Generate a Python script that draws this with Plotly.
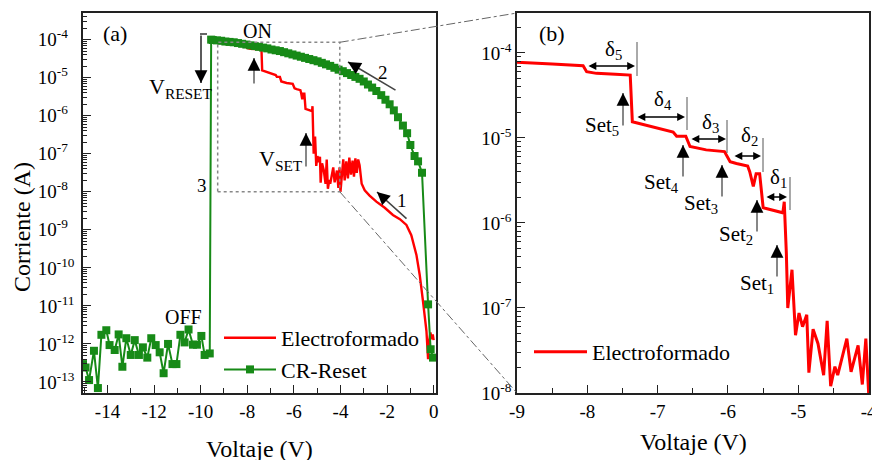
import math
import plotly.graph_objects as go

W, H = 872, 460
FONT = "Liberation Serif"
GREEN = "#178a17"
RED = "#ff0000"

# ---------------- data (log10 of current, A) ----------------
# CR-Reset sweep: 0 V -> -9.55 V (ON branch), drop (3), OFF branch to -15 V
reset_v = [-0.03, -0.13, -0.24, -0.50, -0.67, -0.82, -1.00, -1.14, -1.32, -1.53,
           -1.71, -1.89, -2.07, -2.25, -2.46, -2.64, -2.82, -3.00, -3.18, -3.36,
           -3.54, -3.72, -3.90, -4.08, -4.26, -4.44, -4.62, -4.80, -4.98, -5.16,
           -5.34, -5.52, -5.70, -5.88, -6.06, -6.24, -6.42, -6.60, -6.78, -6.96,
           -7.14, -7.32, -7.50, -7.68, -7.86, -8.04, -8.22, -8.40, -8.58, -8.76,
           -8.94, -9.12, -9.30, -9.48, -9.55,
           -9.61, -9.83, -9.97, -10.16, -10.33, -10.52, -10.69, -10.87, -11.04, -11.21,
           -11.40, -11.59, -11.76, -11.93, -12.12, -12.29, -12.48, -12.65, -12.83, -13.00,
           -13.19, -13.36, -13.52, -13.69, -13.91, -14.05, -14.26, -14.41, -14.58, -14.79,
           -14.94, -15.05]
reset_log_i = [-12.36, -12.14, -10.96, -7.50, -7.20, -7.06, -6.77, -6.46, -6.26, -6.04,
               -5.86, -5.70, -5.58, -5.46, -5.35, -5.26, -5.18, -5.10, -5.03, -4.98,
               -4.93, -4.88, -4.83, -4.79, -4.74, -4.69, -4.65, -4.61, -4.57, -4.54,
               -4.51, -4.48, -4.45, -4.42, -4.39, -4.36, -4.33, -4.30, -4.28, -4.26,
               -4.23, -4.21, -4.19, -4.17, -4.15, -4.13, -4.11, -4.09, -4.07, -4.06,
               -4.05, -4.03, -4.02, -4.01, -4.00,
               -12.25, -12.29, -11.79, -12.02, -12.02, -11.62, -11.96, -11.76, -12.53, -12.53,
               -12.00, -12.77, -12.22, -12.03, -11.85, -12.36, -12.09, -12.29, -11.90, -12.29,
               -11.85, -12.60, -11.75, -12.16, -12.03, -11.64, -11.76, -13.16, -12.18, -12.95,
               -12.62, -12.53]

# Electroformado sweep
form_v = [-9.10, -9.00, -8.50, -8.06, -8.01, -7.87, -7.60, -7.39, -7.36, -7.21,
          -7.00, -6.78, -6.73, -6.60, -6.54, -6.31, -6.05, -5.97, -5.88, -5.72,
          -5.69, -5.64, -5.60, -5.55, -5.50, -5.26, -5.22, -5.20, -5.17, -5.15,
          -5.09, -5.04, -4.99, -4.94, -4.88, -4.85, -4.79, -4.72, -4.64, -4.59,
          -4.54, -4.48, -4.44, -4.31, -4.25, -4.15, -4.09, -4.04, -4.00, -3.94,
          -3.88, -3.82, -3.75, -3.68, -3.62, -3.55, -3.48, -3.42, -3.36, -3.30,
          -3.24, -3.18, -3.09, -2.96, -2.75, -2.46, -2.10, -1.75, -1.45, -1.17,
          -0.96, -0.74, -0.60, -0.46, -0.31, -0.24, -0.20, -0.14, -0.08, -0.04, 0.00]
form_log_i = [-4.09, -4.11, -4.13, -4.15, -4.22, -4.24, -4.25, -4.26, -4.81, -4.84,
              -4.88, -4.93, -4.98, -4.98, -5.10, -5.14, -5.16, -5.28, -5.30, -5.33,
              -5.40, -5.57, -5.42, -5.42, -5.82, -5.87, -5.88, -5.75, -6.36, -7.00,
              -6.55, -7.32, -7.06, -7.22, -7.08, -7.76, -7.25, -7.42, -7.79, -7.15,
              -7.92, -7.69, -7.79, -7.36, -7.75, -7.44, -7.90, -7.36, -8.00, -7.55,
              -7.15, -7.70, -7.20, -7.65, -7.10, -7.55, -7.18, -7.60, -7.12, -7.50,
              -7.15, -7.30, -7.79, -7.96, -8.10, -8.26, -8.42, -8.61, -8.72, -8.87,
              -9.14, -9.66, -10.18, -10.87, -11.66, -12.40, -11.95, -11.70, -11.88, -11.75, -11.90]

reset_i = [10 ** e for e in reset_log_i]
form_i = [10 ** e for e in form_log_i]

# axis tick labels
xa_ticks = [-14, -12, -10, -8, -6, -4, -2, 0]
xb_ticks = [-9, -8, -7, -6, -5, -4]
ya_exps = list(range(-13, -3))
yb_exps = list(range(-8, -3))

# ---------------- layout geometry ----------------
PT, PB = 13, 393                  # plot top/bottom in pixels
XA = [83 / W, 436 / W]            # panel (a) domain
XB = [517 / W, 869 / W]           # panel (b) domain
XR_A = [-15.05, 0.10]
YR_A = [-13.29, -3.30]
XR_B = [-9.0, -3.995]
YR_B = [-8.0, -3.53]


def P(x, y):
    return x / W, (PB - y) / (PB - PT)


def a_paper(v, le):
    xp = XA[0] + (v - XR_A[0]) / (XR_A[1] - XR_A[0]) * (XA[1] - XA[0])
    yp = (le - YR_A[0]) / (YR_A[1] - YR_A[0])
    return xp, yp


def sup_label(e, pad=False):
    s = "10<sup>%d</sup>" % e
    if pad and abs(e) < 10:
        s = "10<sup>%d\u2007</sup>" % e
    return s


fig = go.Figure()
fig.add_trace(go.Scatter(x=form_v, y=form_i, mode="lines", name="Electroformado",
                         line=dict(color=RED, width=2.4), xaxis="x", yaxis="y",
                         legend="legend"))
fig.add_trace(go.Scatter(x=reset_v, y=reset_i, mode="lines+markers", name="CR-Reset",
                         line=dict(color=GREEN, width=2),
                         marker=dict(symbol="square", size=8, color=GREEN),
                         xaxis="x", yaxis="y", legend="legend"))
fig.add_trace(go.Scatter(x=form_v, y=form_i, mode="lines", name="Electroformado",
                         line=dict(color=RED, width=3), xaxis="x2", yaxis="y2",
                         legend="legend2"))

axis_common = dict(showline=True, linecolor="#222", linewidth=1.5, mirror=True,
                   ticks="inside", ticklen=8, tickwidth=1.3, tickcolor="#222",
                   showgrid=False, zeroline=False, automargin=False,
                   ticklabeloverflow="allow",
                   tickfont=dict(family=FONT, size=19, color="black"))

minor_log = [m * 10.0 ** e for e in range(-14, -2) for m in range(2, 10)]

fig.update_layout(
    width=W, height=H, autosize=False,
    paper_bgcolor="white", plot_bgcolor="white",
    margin=dict(l=0, r=0, t=PT, b=H - PB, pad=0),
    font=dict(family=FONT, color="black"),
    xaxis=dict(domain=XA, range=XR_A, tickmode="array", tickvals=xa_ticks,
               ticktext=[str(t) for t in xa_ticks],
               minor=dict(tickvals=[-15, -13, -11, -9, -7, -5, -3, -1], ticks="inside",
                          ticklen=5, tickcolor="#222", tickwidth=1.2),
               anchor="y", **axis_common),
    yaxis=dict(type="log", range=YR_A, tickmode="array",
               tickvals=[10.0 ** e for e in ya_exps],
               ticktext=[sup_label(e, pad=True) for e in ya_exps],
               minor=dict(tickvals=minor_log, ticks="inside", ticklen=4,
                          tickcolor="#222", tickwidth=1),
               anchor="x", ticklabelstandoff=3, **axis_common),
    xaxis2=dict(domain=XB, range=XR_B, tickmode="array", tickvals=xb_ticks,
                ticktext=[str(t) for t in xb_ticks],
                minor=dict(tickvals=[-8.5, -7.5, -6.5, -5.5, -4.5], ticks="inside",
                           ticklen=5, tickcolor="#222", tickwidth=1.2),
                anchor="y2", **axis_common),
    yaxis2=dict(type="log", range=YR_B, tickmode="array",
                tickvals=[10.0 ** e for e in yb_exps],
                ticktext=[sup_label(e) for e in yb_exps],
                minor=dict(tickvals=minor_log, ticks="inside", ticklen=4,
                           tickcolor="#222", tickwidth=1),
                anchor="x2", ticklabelstandoff=0, **axis_common),
    legend=dict(x=P(219, 0)[0], y=P(0, 317)[1], xanchor="left", yanchor="top",
                bgcolor="rgba(0,0,0,0)", font=dict(family=FONT, size=22),
                itemwidth=52, tracegroupgap=0),
    legend2=dict(x=P(529, 0)[0], y=P(0, 331)[1], xanchor="left", yanchor="top",
                 bgcolor="rgba(0,0,0,0)", font=dict(family=FONT, size=22),
                 itemwidth=53),
    showlegend=True,
)

ann = []
shapes = []


def text(t, x, y, size=20, xanchor="center"):
    px_, py_ = P(x, y)
    ann.append(dict(text=t, x=px_, y=py_, xref="paper", yref="paper", showarrow=False,
                    xanchor=xanchor, yanchor="middle",
                    font=dict(family=FONT, size=size, color="black")))


def arrow(hx, hy, tx, ty, shaft="#6a6a6a", head="black", hl=11):
    px_, py_ = P(hx, hy)
    ann.append(dict(text="", x=px_, y=py_, xref="paper", yref="paper", showarrow=True,
                    ax=tx - hx, ay=ty - hy, axref="pixel", ayref="pixel",
                    arrowhead=0, arrowwidth=1.6, arrowcolor=shaft, standoff=0))
    L = math.hypot(tx - hx, ty - hy)
    ann.append(dict(text="", x=px_, y=py_, xref="paper", yref="paper", showarrow=True,
                    ax=(tx - hx) / L * hl, ay=(ty - hy) / L * hl, axref="pixel", ayref="pixel",
                    arrowhead=2, arrowsize=1.6, arrowwidth=1.6, arrowcolor=head, standoff=0))


def darrow(x0, x1, y):
    px0, py_ = P(x1, y)
    ann.append(dict(text="", x=px0, y=py_, xref="paper", yref="paper", showarrow=True,
                    ax=x0 - x1, ay=0, axref="pixel", ayref="pixel",
                    arrowhead=2, startarrowhead=2, arrowside="end+start",
                    arrowsize=1.2, startarrowsize=1.2, arrowwidth=1.3, arrowcolor="black",
                    standoff=0, startstandoff=0))


def pline(x0, y0, x1, y1, color="#555", width=1, dash="solid"):
    a0, b0 = P(x0, y0)
    a1, b1 = P(x1, y1)
    shapes.append(dict(type="line", xref="paper", yref="paper", x0=a0, y0=b0, x1=a1, y1=b1,
                       line=dict(color=color, width=width, dash=dash)))


# ---- panel (a) annotations ----
text("(a)", 115, 34, 22)
text("ON", 257, 31, 20)
text("V<sub>RESET</sub>", 181, 88, 22)
text("V<sub>SET</sub>", 281, 160, 22)
text("OFF", 183, 317, 20)
text("3", 202, 185, 19)
text("2", 383, 72, 19)
text("1", 402, 200, 19)
arrow(201, 83, 201, 34, shaft="#333")
pline(200, 34, 207, 34, color="#333", width=1.5)
arrow(254, 58, 254, 85)
arrow(306, 133, 306, 168)
arrow(348, 62, 397, 91, shaft="#444", hl=10)
arrow(377, 192, 408, 220, shaft="#444", hl=10)

# zoom box (data coordinates of panel a) and connectors to panel (b)
BOX_V = [-9.27, -4.03]
BOX_LOG = [-8.0, -4.07]
shapes.append(dict(type="rect", xref="x", yref="y", x0=BOX_V[0], x1=BOX_V[1],
                   y0=10 ** BOX_LOG[0], y1=10 ** BOX_LOG[1],
                   line=dict(color="#888", width=1.5, dash="dot")))
c_top = a_paper(BOX_V[1], BOX_LOG[1])
c_bot = a_paper(BOX_V[1], BOX_LOG[0])
shapes.append(dict(type="line", xref="paper", yref="paper", x0=c_top[0], y0=c_top[1],
                   x1=XB[0], y1=1, line=dict(color="#666", width=1, dash="dashdot")))
shapes.append(dict(type="line", xref="paper", yref="paper", x0=c_bot[0], y0=c_bot[1],
                   x1=XB[0], y1=0, line=dict(color="#666", width=1, dash="dashdot")))

# ---- panel (b) annotations ----
text("(b)", 552, 33, 22)
deltas = [  # label, x0, x1, y, label_y, vline_x, vline_y0, vline_y1
    ("δ<sub>5</sub>", 587, 635, 66, 50, 637, 42, 76),
    ("δ<sub>4</sub>", 636, 685, 117, 100, 687, 97, 130),
    ("δ<sub>3</sub>", 690, 726, 139, 123, 727, 120, 153),
    ("δ<sub>2</sub>", 733, 761, 156, 136, 763, 138, 172),
    ("δ<sub>1</sub>", 765, 787, 197, 178, 790, 177, 210),
]
for lab, x0, x1, y, ly, vx, vy0, vy1 in deltas:
    darrow(x0, x1, y)
    text(lab, (x0 + x1) / 2 + 2, ly, 21)
    pline(vx, vy0, vx, vy1, color="#555", width=1)

sets = [  # label, arrow x, head y, tail y, label right x, label y
    ("Set<sub>5</sub>", 623, 93, 127, 621, 126),
    ("Set<sub>4</sub>", 683, 145, 178, 681, 183),
    ("Set<sub>3</sub>", 722, 165, 198, 720, 204),
    ("Set<sub>2</sub>", 757, 200, 233, 755, 235),
    ("Set<sub>1</sub>", 777, 245, 278, 776, 284),
]
for lab, ax_, hy, ty, lx, ly in sets:
    arrow(ax_, hy, ax_, ty)
    text(lab, lx, ly, 21, xanchor="right")

# ---- axis titles ----
ann.append(dict(text="Corriente (A)", x=P(22, 0)[0], y=P(0, 227)[1], xref="paper",
                yref="paper", showarrow=False, textangle=-90, xanchor="center",
                yanchor="middle", font=dict(family=FONT, size=24, color="black")))
text("Voltaje (V)", 259, 449, 24)
text("Voltaje (V)", 693, 442, 24)

fig.update_layout(annotations=ann, shapes=shapes)
fig.write_html("out.html", config={"displayModeBar": False},
               post_script="document.body.style.margin='0px';")
